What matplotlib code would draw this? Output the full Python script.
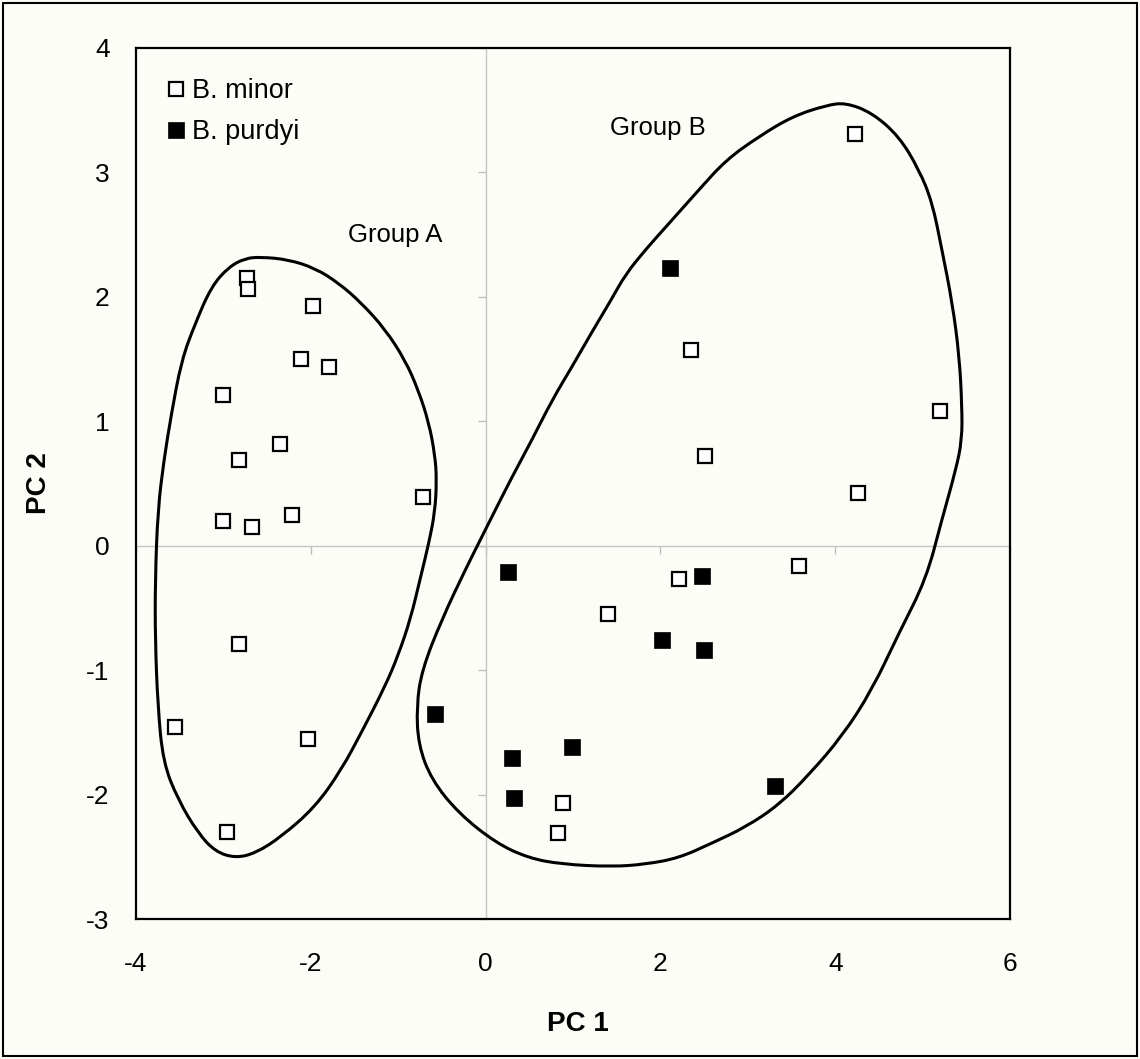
import matplotlib
matplotlib.use("Agg")
import matplotlib.pyplot as plt
from matplotlib.path import Path
from matplotlib.patches import PathPatch, Rectangle

plt.rcParams['font.family'] = ['Liberation Sans', 'DejaVu Sans']
plt.rcParams['axes.unicode_minus'] = False

# B. minor (open squares)
minor_x = [-2.73, -2.72, -1.98, -2.11, -1.79, -3.01, -2.35, -2.82, -0.72, -3.00,
           -2.67, -2.22, -2.82, -3.55, -2.03, -2.96,
           4.23, 2.35, 5.20, 2.51, 4.26, 3.59, 2.21, 1.40, 0.88, 0.83]
minor_y = [2.15, 2.06, 1.93, 1.50, 1.44, 1.21, 0.82, 0.69, 0.39, 0.20,
           0.15, 0.25, -0.79, -1.46, -1.55, -2.30,
           3.31, 1.57, 1.08, 0.72, 0.42, -0.16, -0.27, -0.55, -2.07, -2.31]

# B. purdyi (filled squares)
purdyi_x = [2.11, 0.26, 2.47, 2.02, 2.50, -0.58, 0.99, 0.30, 0.33, 3.31]
purdyi_y = [2.23, -0.21, -0.24, -0.76, -0.84, -1.35, -1.62, -1.71, -2.03, -1.93]

# hand-drawn group outlines
groupA_x = [-2.57, -2.26, -1.95, -1.68, -1.42, -1.15, -0.92, -0.77, -0.65, -0.58,
            -0.56, -0.58, -0.65, -0.75, -0.86, -1.00, -1.15, -1.42, -1.65, -1.95,
            -2.34, -2.63, -2.86, -3.09, -3.29, -3.52, -3.69, -3.75, -3.78, -3.78,
            -3.75, -3.68, -3.60, -3.48, -3.32, -3.14, -2.94, -2.75]
groupA_y = [2.32, 2.30, 2.23, 2.11, 1.95, 1.74, 1.49, 1.25, 0.99, 0.73,
            0.53, 0.27, 0.02, -0.27, -0.59, -0.88, -1.13, -1.50, -1.80, -2.10,
            -2.34, -2.47, -2.51, -2.46, -2.31, -2.04, -1.74, -1.29, -0.76, -0.27,
            0.29, 0.69, 1.04, 1.49, 1.79, 2.08, 2.24, 2.31]

groupB_x = [1.44, 0.87, 0.49, 0.12, -0.31, -0.62, -0.77, -0.79, -0.73, -0.50,
            -0.23, -0.08, 0.07, 0.30, 0.53, 0.76, 0.99, 1.21, 1.44, 1.60,
            1.83, 2.06, 2.44, 2.75, 3.13, 3.51, 3.90, 4.12, 4.42, 4.73,
            4.96, 5.11, 5.22, 5.34, 5.42, 5.45, 5.45, 5.38, 5.22, 5.04,
            4.73, 4.42, 4.08, 3.70, 3.36, 2.98, 2.59, 2.21, 1.83]
groupB_y = [-2.58, -2.56, -2.51, -2.39, -2.15, -1.88, -1.60, -1.29, -1.00, -0.59,
            -0.19, 0.02, 0.23, 0.55, 0.85, 1.17, 1.44, 1.71, 1.98, 2.18,
            2.38, 2.56, 2.86, 3.10, 3.29, 3.45, 3.54, 3.56, 3.48, 3.29,
            3.02, 2.76, 2.38, 1.95, 1.52, 1.12, 0.85, 0.61, 0.21, -0.27,
            -0.70, -1.16, -1.53, -1.84, -2.08, -2.26, -2.39, -2.51, -2.56]


def smooth_outline(xs, ys):
    # closed quadratic curve through the midpoints of the outline vertices
    pts = list(zip(xs, ys))
    n = len(pts)
    mids = [((pts[i][0] + pts[(i + 1) % n][0]) / 2, (pts[i][1] + pts[(i + 1) % n][1]) / 2)
            for i in range(n)]
    verts = [mids[-1]]
    codes = [Path.MOVETO]
    for i in range(n):
        verts += [pts[i], mids[i]]
        codes += [Path.CURVE3, Path.CURVE3]
    return Path(verts, codes)


bg = '#fdfdf8'
fig = plt.figure(figsize=(11.4, 10.59), dpi=100, facecolor=bg)
ax = fig.add_axes([0.1193, 0.1322, 0.7667, 0.8225], facecolor=bg)

ax.set_xlim(-4, 6)
ax.set_ylim(-3, 4)

# zero axes in light gray, with their own small tick marks
sx = ax.secondary_xaxis(3 / 7)
sx.set_xticks([-4, -2, 0, 2, 4, 6])
sx.tick_params(labelbottom=False, length=6, width=1, color='#bdbdbd')
for s in sx.spines.values():
    s.set_color('#c4c4c4')
    s.set_linewidth(1)
sy = ax.secondary_yaxis(0.4)
sy.set_yticks(range(-3, 5))
sy.tick_params(labelleft=False, length=6, width=1, color='#bdbdbd')
for s in sy.spines.values():
    s.set_color('#c4c4c4')
    s.set_linewidth(1)

for gx, gy in [(groupA_x, groupA_y), (groupB_x, groupB_y)]:
    ax.add_patch(PathPatch(smooth_outline(gx, gy), facecolor='none',
                           edgecolor='black', lw=2.2, zorder=2))

ax.plot(minor_x, minor_y, 's', ms=10.5, mfc='white', mec='black', mew=1.6,
        ls='none', label='B. minor', zorder=3)
ax.plot(purdyi_x, purdyi_y, 's', ms=11.5, mfc='black', mec='black', mew=0.5,
        ls='none', label='B. purdyi', zorder=3)

ax.text(-0.50, 2.5, 'Group A', fontsize=18.5, ha='right', va='center')
ax.text(1.42, 3.36, 'Group B', fontsize=18.5, ha='left', va='center')

ax.set_xticks([-4, -2, 0, 2, 4, 6])
ax.set_yticks(range(-3, 5))
ax.tick_params(length=0, labelsize=19)
ax.tick_params(axis='x', pad=24)
ax.tick_params(axis='y', pad=19)
for s in ax.spines.values():
    s.set_linewidth(1.6)

ax.set_xlabel('PC 1', fontsize=20, fontweight='bold')
ax.xaxis.set_label_coords(0.505, -0.106)
ax.set_ylabel('PC 2', fontsize=20, fontweight='bold')
ax.yaxis.set_label_coords(-0.096, 0.5)

leg = ax.legend(loc='upper left', bbox_to_anchor=(0.035, 0.965), frameon=False,
                fontsize=19.5, handlelength=0.7, handletextpad=0.25,
                labelspacing=0.55, borderpad=0, borderaxespad=0, markerscale=1.0)

fig.patches.append(Rectangle((0.003, 0.003), 0.994, 0.994, transform=fig.transFigure,
                             fill=False, edgecolor='black', lw=1.5))

fig.savefig('out.png', dpi=100, facecolor=bg)
